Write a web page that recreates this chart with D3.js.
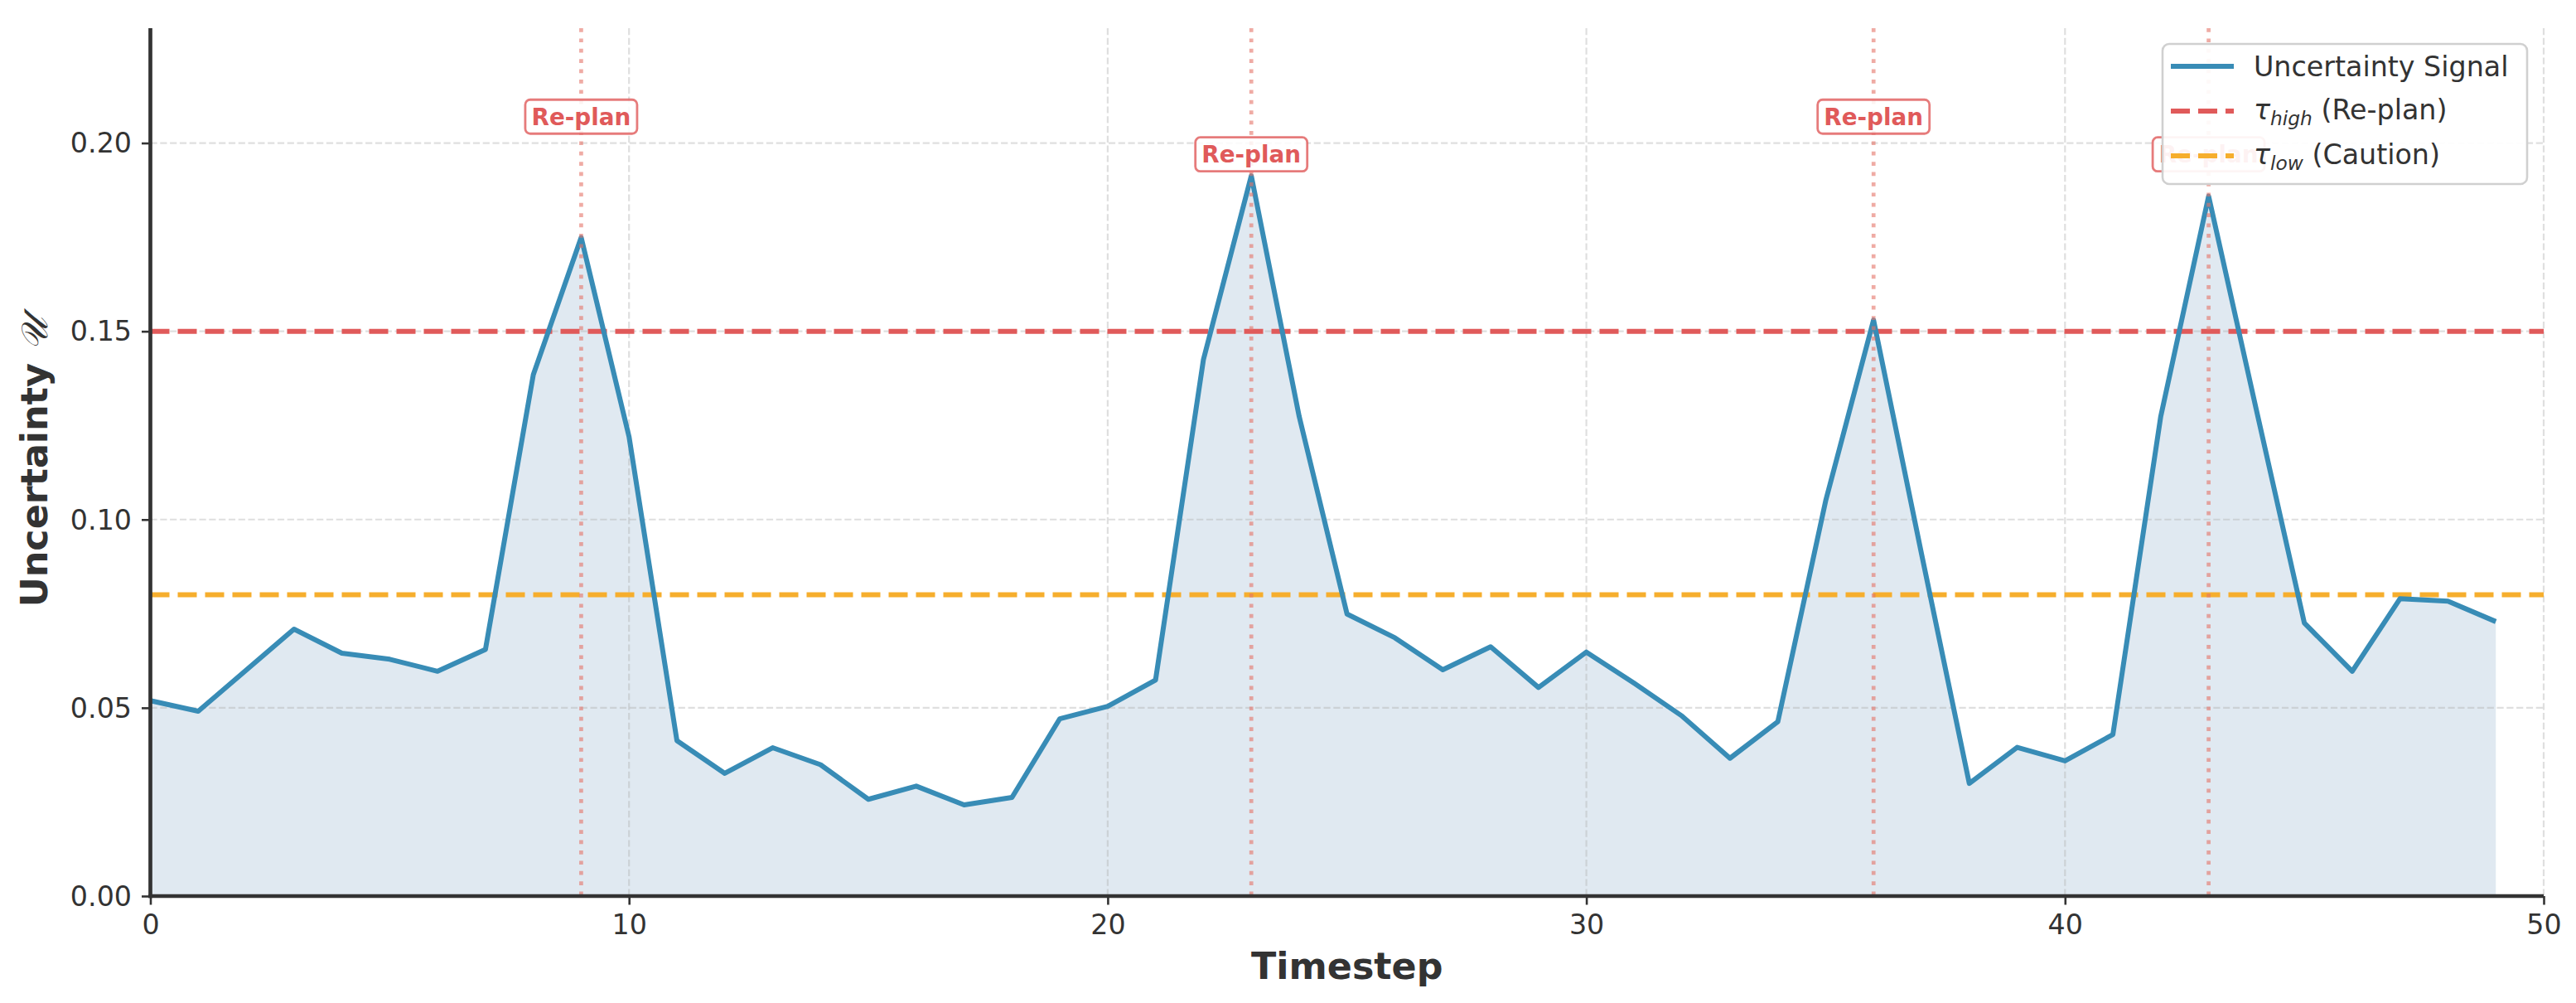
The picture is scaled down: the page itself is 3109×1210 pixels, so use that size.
<!DOCTYPE html>
<html>
<head>
<meta charset="utf-8">
<script src="https://cdn.jsdelivr.net/npm/d3@7"></script>
<style>
  html, body { margin: 0; padding: 0; background: #ffffff; }
  svg { display: block; font-family: "DejaVu Sans", sans-serif; }
</style>
</head>
<body>
<svg id="chart" width="3109" height="1210"></svg>
<script>
// ---------------- data ----------------
const timesteps = [0,1,2,3,4,5,6,7,8,9,10,11,12,13,14,15,16,17,18,19,20,21,22,23,24,25,26,27,28,29,30,31,32,33,34,35,36,37,38,39,40,41,42,43,44,45,46,47,48,49];
const uncertainty = [
  0.0519,0.0491,0.0600,0.0709,0.0645,0.0629,0.0597,0.0655,0.1385,0.1749,
  0.1220,0.0413,0.0326,0.0394,0.0349,0.0257,0.0292,0.0242,0.0262,0.0471,
  0.0504,0.0574,0.1425,0.1913,0.1274,0.0749,0.0686,0.0601,0.0662,0.0554,
  0.0648,0.0565,0.0478,0.0366,0.0463,0.1050,0.1530,0.0910,0.0299,0.0395,
  0.0359,0.0429,0.1274,0.1859,0.1290,0.0725,0.0597,0.0790,0.0783,0.0729
];
const replanSteps = [9, 23, 36, 43];
const replanLabelY = [0.207, 0.197, 0.207, 0.197];
const tauHigh = 0.15;
const tauLow = 0.08;
const xTicks = [0, 10, 20, 30, 40, 50];
const yTicks = [0.00, 0.05, 0.10, 0.15, 0.20];
const xDomain = [0, 50];
const yDomain = [0, 0.2305];
const legendLabels = ["Uncertainty Signal", "(Re-plan)", "(Caution)"];

// ---------------- styles ----------------
const C = {
  line: "#388CB6",
  fill: "#2E6DA4",
  red: "#E05A5A",
  orange: "#F6AE2D",
  vline: "#E57368",
  axis: "#333333",
  grid: "#b0b0b0"
};

const svg = d3.select("#chart");
const L = 181.5, R = 3070, T = 34, B = 1081;
const x = d3.scaleLinear().domain(xDomain).range([L, R]);
const y = d3.scaleLinear().domain(yDomain).range([B, T]);

const pts = timesteps.map((t, i) => ({ t, v: uncertainty[i] }));

// fill area
svg.append("path")
  .datum(pts)
  .attr("d", d3.area().x(d => x(d.t)).y0(y(0)).y1(d => y(d.v)))
  .attr("fill", C.fill).attr("fill-opacity", 0.15);

// grid
const grid = svg.append("g");
grid.selectAll("line.gx").data(xTicks.filter(d => d > 0)).enter().append("line")
  .attr("x1", d => x(d)).attr("x2", d => x(d)).attr("y1", T).attr("y2", B)
  .attr("stroke", C.grid).attr("stroke-opacity", 0.4).attr("stroke-width", 2.2)
  .attr("stroke-dasharray", "8.2,3.6");
grid.selectAll("line.gy").data(yTicks.filter(d => d > 0)).enter().append("line")
  .attr("x1", L).attr("x2", R).attr("y1", d => y(d)).attr("y2", d => y(d))
  .attr("stroke", C.grid).attr("stroke-opacity", 0.4).attr("stroke-width", 2.2)
  .attr("stroke-dasharray", "8.2,3.6");

// threshold lines
svg.append("line").attr("x1", L).attr("x2", R).attr("y1", y(tauHigh)).attr("y2", y(tauHigh))
  .attr("stroke", C.red).attr("stroke-width", 6).attr("stroke-dasharray", "23,10");
svg.append("line").attr("x1", L).attr("x2", R).attr("y1", y(tauLow)).attr("y2", y(tauLow))
  .attr("stroke", C.orange).attr("stroke-width", 6).attr("stroke-dasharray", "23,10");

// signal line
svg.append("path")
  .datum(pts)
  .attr("d", d3.line().x(d => x(d.t)).y(d => y(d.v)))
  .attr("fill", "none").attr("stroke", C.line).attr("stroke-width", 6)
  .attr("stroke-linejoin", "round").attr("stroke-linecap", "butt");

// re-plan vertical lines
svg.selectAll("line.rp").data(replanSteps).enter().append("line")
  .attr("x1", d => x(d)).attr("x2", d => x(d)).attr("y1", T).attr("y2", B)
  .attr("stroke", C.vline).attr("stroke-opacity", 0.6).attr("stroke-width", 4.7)
  .attr("stroke-dasharray", "4.7,7.7");

// re-plan labels
replanSteps.forEach((s, i) => {
  const cx = x(s), cy = y(replanLabelY[i]);
  const g = svg.append("g");
  g.append("rect")
    .attr("x", cx - 67.5).attr("y", cy - 20.5).attr("width", 135).attr("height", 41)
    .attr("rx", 6).attr("ry", 6)
    .attr("fill", "#ffffff").attr("fill-opacity", 0.85)
    .attr("stroke", C.red).attr("stroke-opacity", 0.8).attr("stroke-width", 2.8);
  g.append("text")
    .attr("x", cx).attr("y", cy + 10)
    .attr("text-anchor", "middle")
    .attr("font-size", 27.8).attr("font-weight", "bold")
    .attr("fill", C.red)
    .text("Re-plan");
});

// axes
const xAxis = d3.axisBottom(x).tickValues(xTicks).tickFormat(d3.format("d"))
  .tickSizeInner(10.5).tickSizeOuter(0).tickPadding(11);
const yAxis = d3.axisLeft(y).tickValues(yTicks).tickFormat(d3.format(".2f"))
  .tickSizeInner(10.5).tickSizeOuter(0).tickPadding(12);

const gx = svg.append("g").attr("transform", `translate(0,${B})`).call(xAxis);
const gy = svg.append("g").attr("transform", `translate(${L},0)`).call(yAxis);
[gx, gy].forEach(g => {
  g.select(".domain").attr("stroke", C.axis).attr("stroke-width", 4.7);
  g.selectAll(".tick line").attr("stroke", C.axis).attr("stroke-width", 2.6);
  g.selectAll(".tick text").attr("fill", C.axis).attr("font-size", 33.3)
    .attr("font-family", "DejaVu Sans");
});
gy.selectAll(".tick text").attr("dy", "0.34em");
gx.selectAll(".tick text").attr("dy", "0.74em");
// extend spines to plot bounds
gx.select(".domain").attr("d", `M${L - 2.35},0H${R}`);
gy.select(".domain").attr("d", `M0,${T}V${B + 2.35}`);

// axis labels
svg.append("text")
  .attr("x", (L + R) / 2).attr("y", 1181)
  .attr("text-anchor", "middle")
  .attr("font-size", 44.4).attr("font-weight", "bold").attr("fill", C.axis)
  .text("Timestep");

const yl = svg.append("text")
  .attr("transform", `translate(57,${(T + B) / 2}) rotate(-90)`)
  .attr("text-anchor", "middle")
  .attr("font-size", 44.4).attr("fill", C.axis);
yl.append("tspan").attr("font-weight", "bold").text("Uncertainty ");
yl.append("tspan").attr("font-weight", "normal").attr("font-style", "italic")
  .attr("font-family", "DejaVu Serif, Liberation Serif, serif").text("\u{1D4B0}");

// legend
const lg = svg.append("g");
lg.append("rect")
  .attr("x", 2610).attr("y", 53).attr("width", 440).attr("height", 169)
  .attr("rx", 8).attr("ry", 8)
  .attr("fill", "#ffffff").attr("fill-opacity", 0.92)
  .attr("stroke", "#d0d0d0").attr("stroke-width", 2.6);
const rows = [80, 134, 188];
const hx1 = 2620, hx2 = 2696, tx = 2720;
lg.append("line").attr("x1", hx1).attr("x2", hx2).attr("y1", rows[0]).attr("y2", rows[0])
  .attr("stroke", C.line).attr("stroke-width", 6);
lg.append("line").attr("x1", hx1).attr("x2", hx2).attr("y1", rows[1]).attr("y2", rows[1])
  .attr("stroke", C.red).attr("stroke-width", 6).attr("stroke-dasharray", "23,10");
lg.append("line").attr("x1", hx1).attr("x2", hx2).attr("y1", rows[2]).attr("y2", rows[2])
  .attr("stroke", C.orange).attr("stroke-width", 6).attr("stroke-dasharray", "23,10");

lg.append("text").attr("x", tx).attr("y", rows[0] + 12)
  .attr("font-size", 33.3).attr("fill", C.axis).text(legendLabels[0]);

function tauLabel(yy, sub, rest) {
  const t = lg.append("text").attr("x", tx).attr("y", yy + 10)
    .attr("font-size", 33.3).attr("fill", C.axis);
  t.append("tspan").attr("font-style", "italic").text("\u03C4");
  t.append("tspan").attr("font-style", "italic").attr("font-size", 23.3)
    .attr("dy", 7).text(sub);
  t.append("tspan").attr("dy", -7).text(" " + rest);
}
tauLabel(rows[1], "high", legendLabels[1]);
tauLabel(rows[2], "low", legendLabels[2]);
</script>
</body>
</html>
